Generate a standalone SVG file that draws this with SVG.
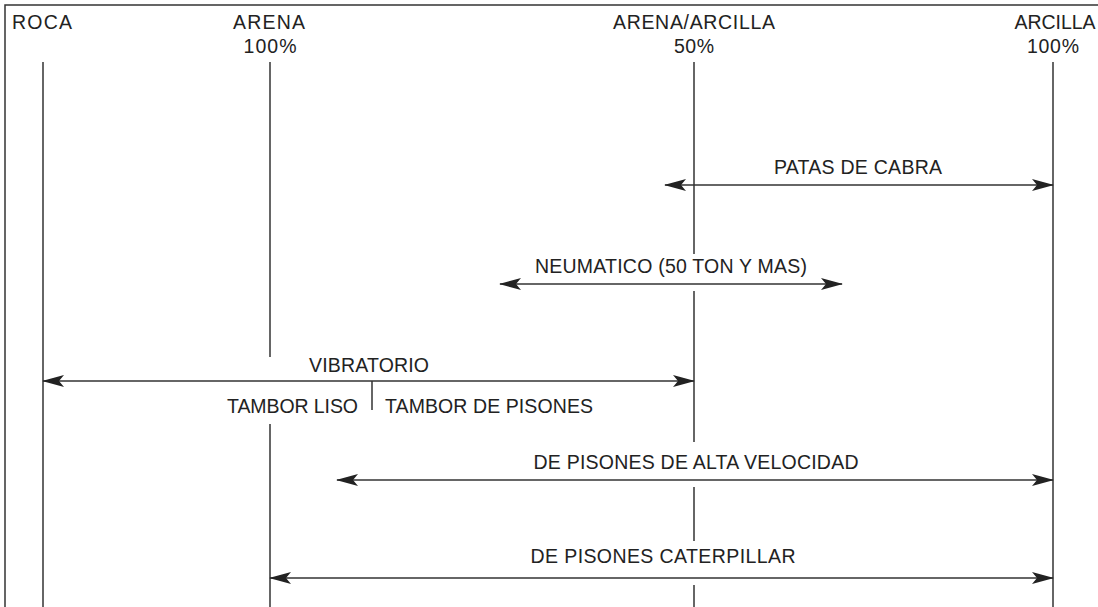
<svg xmlns="http://www.w3.org/2000/svg" width="1098" height="607" viewBox="0 0 1098 607">
<style>
text{font-family:"Liberation Sans",Arial,sans-serif;font-size:19.5px;fill:#222}
.ax{stroke:#333;stroke-width:1.5;fill:none}
.ar{stroke:#333;stroke-width:1.5;fill:none;marker-start:url(#ah);marker-end:url(#ah)}
.m{text-anchor:middle}
</style>
<defs>
<marker id="ah" viewBox="0 0 22 12" refX="21" refY="6" markerWidth="22" markerHeight="12" markerUnits="userSpaceOnUse" orient="auto-start-reverse">
<path d="M0,0 L22,6 L0,12 L5,6 Z" fill="#222"/>
</marker>
</defs>
<rect width="1098" height="607" fill="#fff"/>
<g id="frame"><path class="ax" d="M5,607 V5 H1098"/></g>
<g id="roca"><text x="12" y="29" textLength="60" lengthAdjust="spacing">ROCA</text><line class="ax" x1="43" y1="62" x2="43" y2="607"/></g>
<g id="arena"><text class="m" x="269" y="29" textLength="72" lengthAdjust="spacing">ARENA</text><text class="m" x="270" y="53" textLength="53" lengthAdjust="spacing">100%</text>
<line class="ax" x1="270" y1="62" x2="270" y2="357"/><line class="ax" x1="270" y1="424" x2="270" y2="607"/></g>
<g id="arena-arcilla"><text class="m" x="694" y="29" textLength="162" lengthAdjust="spacing">ARENA/ARCILLA</text><text class="m" x="694" y="53" textLength="40" lengthAdjust="spacing">50%</text>
<line class="ax" x1="694" y1="62" x2="694" y2="254"/><line class="ax" x1="694" y1="291" x2="694" y2="442"/><line class="ax" x1="694" y1="487" x2="694" y2="541"/><line class="ax" x1="694" y1="585" x2="694" y2="607"/></g>
<g id="arcilla"><text class="m" x="1055" y="29" textLength="81" lengthAdjust="spacing">ARCILLA</text><text class="m" x="1053" y="53" textLength="52" lengthAdjust="spacing">100%</text><line class="ax" x1="1053" y1="62" x2="1053" y2="607"/></g>
<g id="connectors">
<line class="ar" x1="665" y1="185" x2="1053" y2="185"/>
<line class="ar" x1="500" y1="284" x2="842" y2="284"/>
<line class="ar" x1="43" y1="381" x2="694" y2="381"/>
<line class="ax" x1="372" y1="381" x2="372" y2="410"/>
<line class="ar" x1="337" y1="480" x2="1053" y2="480"/>
<line class="ar" x1="270" y1="578" x2="1053" y2="578"/>
</g>
<g id="labels">
<text class="m" x="858" y="174" textLength="168" lengthAdjust="spacing">PATAS DE CABRA</text>
<text class="m" x="671" y="273" textLength="272" lengthAdjust="spacing">NEUMATICO (50 TON Y MAS)</text>
<text class="m" x="369" y="372" textLength="120" lengthAdjust="spacing">VIBRATORIO</text>
<text x="358" y="413" text-anchor="end" textLength="131" lengthAdjust="spacing">TAMBOR LISO</text>
<text x="385" y="413" textLength="208" lengthAdjust="spacing">TAMBOR DE PISONES</text>
<text class="m" x="696" y="469" textLength="325" lengthAdjust="spacing">DE PISONES DE ALTA VELOCIDAD</text>
<text class="m" x="663" y="563" textLength="265" lengthAdjust="spacing">DE PISONES CATERPILLAR</text>
</g>
</svg>
